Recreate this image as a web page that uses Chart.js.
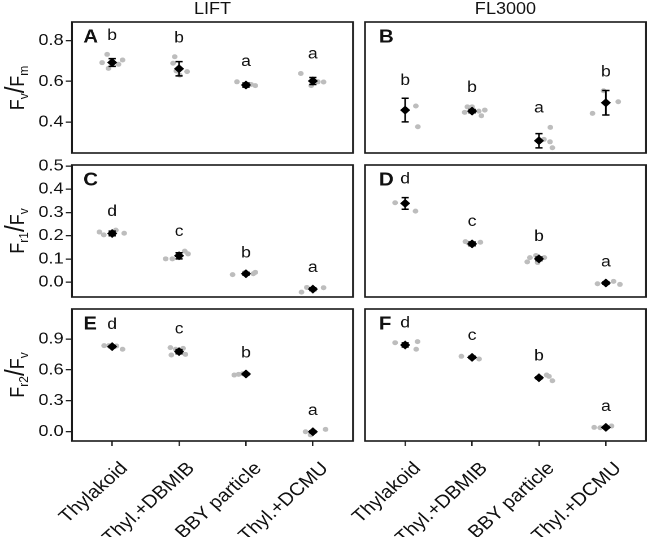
<!DOCTYPE html>
<html><head><meta charset="utf-8">
<script src="https://cdn.jsdelivr.net/npm/chart.js@4.4.1/dist/chart.umd.min.js"></script>
<style>
html,body{margin:0;padding:0;background:#fff;overflow:hidden;width:649px;height:537px;}
#fig{position:absolute;left:0;top:0;height:537px;transform-origin:0 0;font-family:"Liberation Sans",Arial,sans-serif;color:#111;}
#fig canvas{position:absolute;}
.ttl{position:absolute;font-size:16px;line-height:16px;white-space:nowrap;transform:translateX(-50%);}
.ylab{position:absolute;font-size:18px;white-space:nowrap;transform:translate(-50%,-50%) rotate(-90deg);line-height:1;}
.ylab sub{font-size:12px;vertical-align:-3px;}
.ylab .sl{font-size:24px;}
</style></head><body><div id="fig"></div>
<script>
// ---------- data ----------
const categories = ['Thylakoid', 'Thyl.+DBMIB', 'BBY particle', 'Thyl.+DCMU'];
const methodTitles = ['LIFT', 'FL3000'];
const rowTitles = ['F<sub>v</sub><span class="sl">/</span>F<sub>m</sub>',
                   'F<sub>r1</sub><span class="sl">/</span>F<sub>v</sub>',
                   'F<sub>r2</sub><span class="sl">/</span>F<sub>v</sub>'];

const fvfmTicks = [0.4, 0.6, 0.8];
const fvfmRange = [0.248, 0.892];
const fr1Ticks = [0.0, 0.1, 0.2, 0.3, 0.4, 0.5];
const fr1Range = [-0.063, 0.504];
const fr2Ticks = [0.0, 0.3, 0.6, 0.9];
const fr2Range = [-0.09, 1.191];

// Panel A (LIFT, Fv/Fm)
const meanA = [0.693, 0.662, 0.582, 0.602];
const errA = [0.019, 0.035, 0.010, 0.017];
const ptsA = [[0.692, 0.733, 0.664, 0.684, 0.705], [0.721, 0.689, 0.651, 0.631, 0.648], [0.598, 0.578, 0.585, 0.579], [0.639, 0.579, 0.598, 0.597]];
const jitA = [[-0.15, -0.075, -0.055, 0.095, 0.155], [-0.065, -0.09, -0.04, 0.01, 0.12], [-0.135, -0.02, 0.075, 0.14], [-0.18, -0.025, 0.075, 0.16]];
const lettersA = ['b', 'b', 'a', 'a'];
const letterYA = [0.803, 0.79, 0.675, 0.713];

// Panel B (FL3000, Fv/Fm)
const meanB = [0.459, 0.454, 0.308, 0.495];
const errB = [0.058, 0.008, 0.035, 0.06];
const ptsB = [[0.479, 0.377], [0.448, 0.475, 0.475, 0.454, 0.431, 0.459], [0.374, 0.315, 0.303, 0.274], [0.443, 0.554, 0.5]];
const jitB = [[0.16, 0.19], [-0.11, -0.07, 0.0, 0.1, 0.14, 0.19], [0.17, 0.075, 0.165, 0.2], [-0.2, -0.035, 0.185]];
const lettersB = ['b', 'b', 'a', 'b'];
const letterYB = [0.582, 0.549, 0.446, 0.623];

// Panel C (LIFT, Fr1/Fv)
const meanC = [0.210, 0.114, 0.037, -0.029];
const errC = [0.01, 0.013, 0.006, 0.006];
const ptsC = [[0.216, 0.204, 0.224, 0.211], [0.101, 0.101, 0.134, 0.122], [0.033, 0.042, 0.037, 0.043], [-0.042, -0.022, -0.023]];
const jitC = [[-0.19, -0.125, 0.055, 0.18], [-0.2, -0.1, 0.085, 0.135], [-0.2, -0.015, 0.11, 0.14], [-0.17, -0.09, 0.16]];
const lettersC = ['d', 'c', 'b', 'a'];
const letterYC = [0.286, 0.198, 0.106, 0.045];

// Panel D (FL3000, Fr1/Fv)
const meanD = [0.339, 0.165, 0.101, -0.003];
const errD = [0.025, 0.008, 0.008, 0.005];
const ptsD = [[0.342, 0.306], [0.175, 0.168, 0.172], [0.088, 0.106, 0.115, 0.085, 0.106], [-0.006, 0.004, -0.009]];
const jitD = [[-0.15, 0.155], [-0.1, -0.05, 0.125], [-0.175, -0.135, -0.045, -0.02, 0.08], [-0.125, 0.115, 0.21]];
const lettersD = ['d', 'c', 'b', 'a'];
const letterYD = [0.425, 0.241, 0.178, 0.069];

// Panel E (LIFT, Fr2/Fv)
const meanE = [0.826, 0.777, 0.56, 0.0];
const errE = [0.01, 0.02, 0.008, 0.01];
const ptsE = [[0.835, 0.835, 0.832, 0.80], [0.816, 0.745, 0.80, 0.809, 0.751], [0.55, 0.557, 0.563], [0.0, -0.03, 0.023]];
const jitE = [[-0.12, -0.05, 0.065, 0.155], [-0.13, -0.115, -0.05, 0.06, 0.095], [-0.175, -0.11, -0.05], [-0.11, -0.035, 0.19]];
const lettersE = ['d', 'c', 'b', 'a'];
const letterYE = [0.997, 0.955, 0.722, 0.162];

// Panel F (FL3000, Fr2/Fv)
const meanF = [0.842, 0.722, 0.524, 0.042];
const errF = [0.02, 0.01, 0.01, 0.008];
const ptsF = [[0.864, 0.874, 0.80], [0.732, 0.706], [0.55, 0.537, 0.495], [0.042, 0.039, 0.055]];
const jitF = [[-0.15, 0.185, 0.165], [-0.16, 0.105], [0.115, 0.15, 0.2], [-0.175, -0.085, 0.085]];
const lettersF = ['d', 'c', 'b', 'a'];
const letterYF = [1.013, 0.89, 0.69, 0.2];

// ---------- layout ----------
const S = 1.13;                 // horizontal stretch of the original figure
const FIG_W = 649 / S;
const colX = [[72 / S, 353 / S], [365 / S, 646 / S]];
const rowY = [[22, 153], [165, 297], [309, 441]];
const FONT = '"Liberation Sans", Arial, sans-serif';

const panels = [
  {tag: 'A', row: 0, col: 0, mean: meanA, err: errA, pts: ptsA, jit: jitA, letters: lettersA, letterY: letterYA, ticks: fvfmTicks, range: fvfmRange},
  {tag: 'B', row: 0, col: 1, mean: meanB, err: errB, pts: ptsB, jit: jitB, letters: lettersB, letterY: letterYB, ticks: fvfmTicks, range: fvfmRange},
  {tag: 'C', row: 1, col: 0, mean: meanC, err: errC, pts: ptsC, jit: jitC, letters: lettersC, letterY: letterYC, ticks: fr1Ticks, range: fr1Range},
  {tag: 'D', row: 1, col: 1, mean: meanD, err: errD, pts: ptsD, jit: jitD, letters: lettersD, letterY: letterYD, ticks: fr1Ticks, range: fr1Range},
  {tag: 'E', row: 2, col: 0, mean: meanE, err: errE, pts: ptsE, jit: jitE, letters: lettersE, letterY: letterYE, ticks: fr2Ticks, range: fr2Range},
  {tag: 'F', row: 2, col: 1, mean: meanF, err: errF, pts: ptsF, jit: jitF, letters: lettersF, letterY: letterYF, ticks: fr2Ticks, range: fr2Range}
];

const fig = document.getElementById('fig');
fig.style.width = FIG_W + 'px';
fig.style.transform = 'scaleX(' + S + ')';

methodTitles.forEach((t, c) => {
  const d = document.createElement('div');
  d.className = 'ttl';
  d.textContent = t;
  d.style.left = ((colX[c][0] + colX[c][1]) / 2) + 'px';
  d.style.top = '1px';
  fig.appendChild(d);
});
rowTitles.forEach((t, r) => {
  const d = document.createElement('div');
  d.className = 'ylab';
  d.innerHTML = t;
  d.style.left = (16 / S) + 'px';
  d.style.top = ((rowY[r][0] + rowY[r][1]) / 2) + 'px';
  fig.appendChild(d);
});

function makeDeco(p) {
  return {
    id: 'deco' + p.tag,
    beforeDatasetDraw(chart, args) {
      if (args.index !== 0) return;
      const ctx = chart.ctx, xs = chart.scales.x, ys = chart.scales.y;
      ctx.save();
      ctx.strokeStyle = '#000';
      ctx.lineWidth = 1.5;
      p.mean.forEach((m, i) => {
        const x = xs.getPixelForValue(i);
        const y1 = ys.getPixelForValue(m - p.err[i]);
        const y2 = ys.getPixelForValue(m + p.err[i]);
        const w = 3.2;
        ctx.beginPath();
        ctx.moveTo(x, y1); ctx.lineTo(x, y2);
        ctx.moveTo(x - w, y1); ctx.lineTo(x + w, y1);
        ctx.moveTo(x - w, y2); ctx.lineTo(x + w, y2);
        ctx.stroke();
      });
      ctx.restore();
    },
    afterDraw(chart) {
      const ctx = chart.ctx, a = chart.chartArea;
      const xs = chart.scales.x, ys = chart.scales.y;
      ctx.save();
      ctx.fillStyle = '#111';
      ctx.font = '15.5px ' + FONT;
      ctx.textAlign = 'center';
      ctx.textBaseline = 'alphabetic';
      p.letters.forEach((l, i) => {
        ctx.fillText(l, xs.getPixelForValue(i), ys.getPixelForValue(p.letterY[i]));
      });
      ctx.font = 'bold 18px ' + FONT;
      ctx.textAlign = 'left';
      ctx.fillText(p.tag, a.left + (p.col === 0 ? 10 : 12.4), a.top + 20.5);
      ctx.strokeStyle = '#1a1a1a';
      ctx.lineWidth = 1.6;
      ctx.strokeRect(a.left, a.top, a.right - a.left, a.bottom - a.top);
      ctx.restore();
    }
  };
}

panels.forEach(p => {
  const [pl, pr] = colX[p.col];
  const [pt, pb] = rowY[p.row];
  const bottomRow = p.row === 2;
  const leftCol = p.col === 0;
  const cLeft = leftCol ? 0 : Math.floor(bottomRow ? pl - 75 : pl - 6);
  const cTop = pt - 18;
  const cW = Math.ceil(pr + 6 - cLeft);
  const cBottom = bottomRow ? 537 : pb + 18;
  const cH = cBottom - cTop;
  const padRight = cW - (pr - cLeft);
  const cv = document.createElement('canvas');
  cv.width = cW;
  cv.height = cH;
  cv.style.left = cLeft + 'px';
  cv.style.top = cTop + 'px';
  cv.style.width = cW + 'px';
  cv.style.height = cH + 'px';
  fig.appendChild(cv);

  const grayData = [];
  p.pts.forEach((arr, i) => arr.forEach((v, k) => grayData.push({x: i + p.jit[i][k], y: v})));
  const meanData = p.mean.map((m, i) => ({x: i, y: m}));

  new Chart(cv, {
    type: 'scatter',
    data: {
      datasets: [
        {data: meanData, pointStyle: 'rectRot', pointRadius: 4.5, backgroundColor: '#000', borderColor: '#000', borderWidth: 0, clip: false},
        {data: grayData, pointStyle: 'circle', pointRadius: 2.5, backgroundColor: '#bdbdbd', borderWidth: 0, clip: false}
      ]
    },
    options: {
      responsive: false,
      animation: false,
      devicePixelRatio: 2,
      events: [],
      layout: {padding: {left: leftCol ? 0 : pl - cLeft, top: 18, right: padRight, bottom: bottomRow ? 0 : 18}},
      plugins: {legend: {display: false}, tooltip: {enabled: false}},
      scales: {
        x: {
          type: 'linear', min: -0.6, max: 3.6, display: bottomRow,
          afterBuildTicks: s => { s.ticks = [0, 1, 2, 3].map(v => ({value: v})); },
          afterFit: s => { if (bottomRow) s.height = 537 - pb; },
          ticks: {
            callback: v => categories[v], autoSkip: false, minRotation: 45, maxRotation: 45,
            font: {family: FONT, size: 18}, color: '#111', padding: 12, labelOffset: 11
          },
          grid: {display: true, drawOnChartArea: false, drawTicks: true, tickLength: 5, color: '#222', lineWidth: 1.3},
          border: {display: false}
        },
        y: {
          type: 'linear', min: p.range[0], max: p.range[1], display: leftCol,
          afterBuildTicks: s => { s.ticks = p.ticks.map(v => ({value: v})); },
          afterFit: s => { if (leftCol) s.width = pl; },
          ticks: {callback: v => v.toFixed(1), font: {family: FONT, size: 16}, color: '#111', padding: 2},
          grid: {display: true, drawOnChartArea: false, drawTicks: true, tickLength: 5.5, color: '#222', lineWidth: 1.3},
          border: {display: false}
        }
      }
    },
    plugins: [makeDeco(p)]
  });
});
</script></body></html>
